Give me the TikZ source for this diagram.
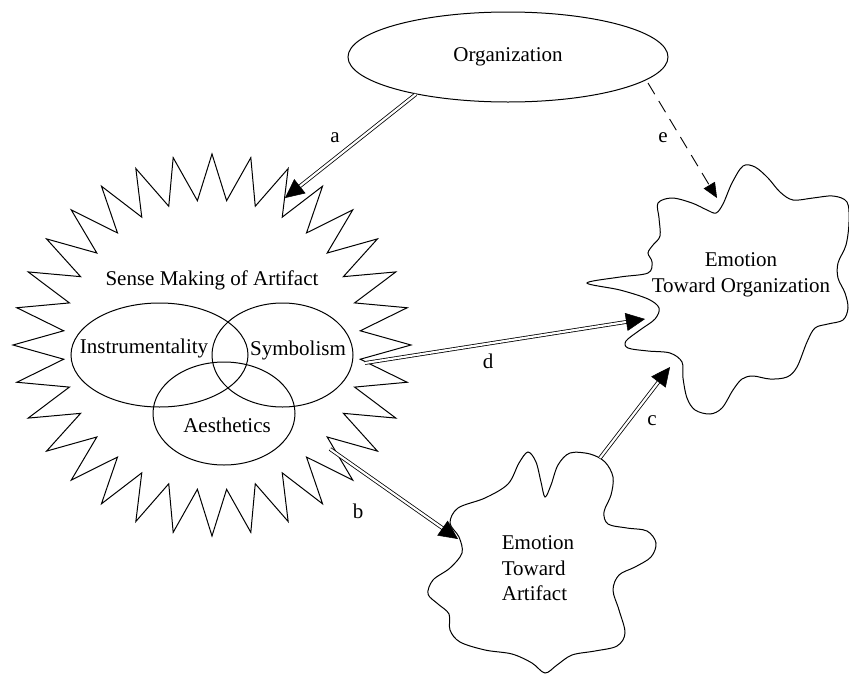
\documentclass[tikz,border=0pt]{standalone}
\usepackage{fontspec}
\setmainfont{Liberation Serif}
\usetikzlibrary{arrows.meta,calc,shapes.geometric}
\begin{document}
\begin{tikzpicture}[x=1pt,y=-1pt,
  every node/.style={font=\fontsize{21}{26}\selectfont},
  outline/.style={draw=black, line width=1pt},
  vennell/.style={draw=black, line width=1pt, ellipse, inner sep=0pt},
  lbl/.style={anchor=base, inner sep=0pt},
  dbl/.style={draw=black, double=white, double distance=2.2pt, line width=0.8pt, shorten >=17pt},
  dblhead/.style={draw=black, fill=black, -{Triangle[length=19pt,width=18pt]}, line width=0.5pt},
  dasharrow/.style={draw=black, line width=0.9pt, dash pattern=on 13pt off 8pt, shorten >=13pt},
  dashhead/.style={draw=black, -{Triangle[length=15pt,width=13pt]}, line width=0.5pt},
]
\useasboundingbox (0,0) rectangle (849,675);

% Organization
\node[outline, ellipse, minimum width=320pt, minimum height=90pt, inner sep=0pt] (org) at (508,57) {Organization};

% Starburst
\coordinate (star) at (212,345);
\draw[outline, line join=miter] (411,345)
  \foreach \i in {1,...,63}{
    -- ({212+(isodd(\i)?149:199)*cos(\i*5.625)}, {345-(isodd(\i)?145:191)*sin(\i*5.625)})
  } -- cycle;
\node[lbl] (sense) at (212,285) {Sense Making of Artifact};

% Venn ellipses
\node[vennell, minimum width=177pt, minimum height=104pt] (instrE) at (159.5,355) {};
\node[vennell, minimum width=141pt, minimum height=104pt] (symbE) at (282.5,355) {};
\node[vennell, minimum width=142pt, minimum height=103pt] (aesE) at (224,413.5) {};
\node[lbl] (instr) at (144,353) {Instrumentality};
\node[lbl] (symb) at (298,355) {Symbolism};
\node[lbl] (aes) at (227,432) {Aesthetics};

% Cloud: Emotion Toward Organization
\draw[outline] plot[smooth cycle, tension=0.55] coordinates {
 (658,203) (672,198) (692,203) (707,210) (716,213) (723,204) (732,183) (743,166)
 (755,167) (768,178) (780,192) (793,200) (813,198) (833,196) (847,202) (849,222)
 (846,245) (838,263) (838,278) (845,293) (848,308) (843,320) (828,324) (815,328)
 (807,342) (797,367) (787,377) (770,379) (753,376) (742,379) (733,390) (722,408)
 (710,414) (695,410) (687,398) (683,378) (682,362) (670,353) (648,351) (628,348)
 (626,341) (640,330) (655,319) (659,308) (648,299) (620,290) (587,283) (620,277)
 (648,273) (652,262) (648,253) (653,245) (660,236) (659,218)};
\node[align=center, inner sep=0pt] (emoOrg) at (741,275) {Emotion\\Toward Organization};

% Cloud: Emotion Toward Artifact
\draw[outline] plot[smooth cycle, tension=0.55] coordinates {
 (528,452) (536,462) (541,482) (545,497) (551,485) (558,465) (570,453) (590,454)
 (605,462) (613,477) (611,495) (604,512) (608,524) (627,528) (647,531) (656,543)
 (651,557) (635,567) (619,575) (613,590) (619,610) (625,633) (617,646) (595,651)
 (572,655) (557,665) (545,673) (532,663) (512,654) (485,650) (460,642) (450,630)
 (449,614) (438,604) (428,594) (433,580) (450,568) (462,553) (459,537) (450,523)
 (458,508) (485,498) (508,484) (519,463)};
\node[align=left, inner sep=0pt, font=\fontsize{21}{25.5}\selectfont] (emoArt) at (538,568.5) {Emotion\\Toward\\Artifact};

% Connector end points
\coordinate (aS) at (org.202);
\coordinate (aE) at (285,198);
\coordinate (eS) at (648,83);
\coordinate (eE) at (717,198);
\coordinate (dS) at (365,363);
\coordinate (dE) at (645,319);
\coordinate (bS) at (330,449);
\coordinate (bE) at (458,539);
\coordinate (cS) at (600,458);
\coordinate (cE) at (670,367);

% a
\draw[dbl] (aS) -- (aE);
\draw[dblhead] ($(aE)!19pt!(aS)$) -- (aE);
\node[lbl] (la) at (335,142) {a};
% d
\draw[dbl] (dS) -- (dE);
\draw[dblhead] ($(dE)!19pt!(dS)$) -- (dE);
\node[lbl] (ld) at (488,368) {d};
% b
\draw[dbl] (bS) -- (bE);
\draw[dblhead] ($(bE)!19pt!(bS)$) -- (bE);
\node[lbl] (lb) at (358,518) {b};
% c
\draw[dbl] (cS) -- (cE);
\draw[dblhead] ($(cE)!19pt!(cS)$) -- (cE);
\node[lbl] (lc) at (652,425) {c};
% e
\draw[dasharrow] (eS) -- (eE);
\draw[dashhead, fill=black] ($(eE)!15pt!(eS)$) -- (eE);
\node[lbl] (le) at (663,142) {e};
\end{tikzpicture}
\end{document}
